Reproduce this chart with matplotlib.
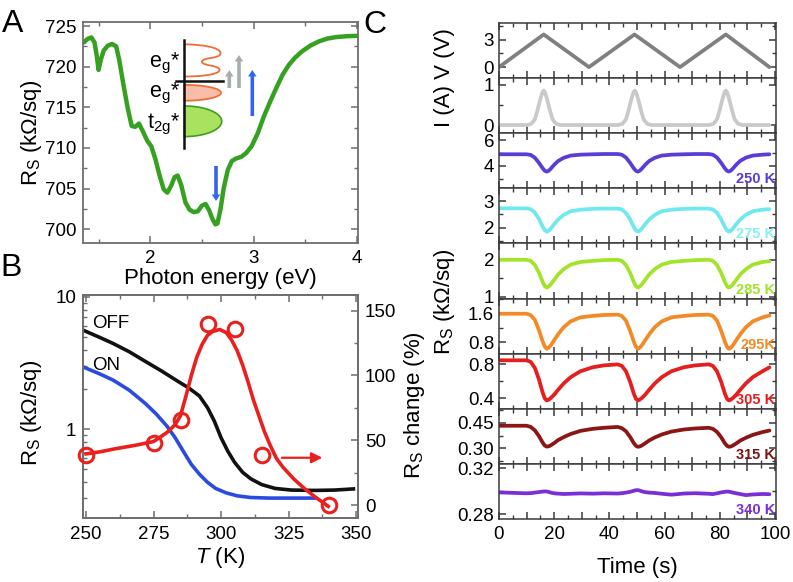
import numpy as np
import matplotlib
matplotlib.use('Agg')
import matplotlib.pyplot as plt
from matplotlib.ticker import MultipleLocator, FixedLocator, AutoMinorLocator, NullFormatter, LogLocator
from matplotlib.path import Path
import matplotlib.patches as mpatches

plt.rcParams['font.family'] = ['Liberation Sans', 'DejaVu Sans']
plt.rcParams['mathtext.fontset'] = 'custom'
plt.rcParams['mathtext.rm'] = 'Liberation Sans'
plt.rcParams['mathtext.it'] = 'Liberation Sans:italic'
plt.rcParams['mathtext.bf'] = 'Liberation Sans:bold'

# ---------------- Panel A data ----------------
energy_eV = [1.36, 1.39, 1.43, 1.46, 1.48, 1.50, 1.52, 1.55, 1.59, 1.63, 1.67, 1.70, 1.74, 1.78,
             1.82, 1.855, 1.89, 1.93, 1.97, 2.01, 2.05, 2.09, 2.13, 2.165, 2.20, 2.235, 2.265,
             2.30, 2.34, 2.38, 2.42, 2.46, 2.50, 2.535, 2.57, 2.60, 2.63, 2.65, 2.68, 2.71,
             2.75, 2.79, 2.83, 2.88, 2.93, 2.98, 3.04, 3.10, 3.16, 3.22, 3.28, 3.34, 3.40,
             3.47, 3.55, 3.63, 3.71, 3.80, 3.90, 4.00]
rs_photo = [723.0, 723.4, 723.6, 723.0, 721.5, 719.6, 720.8, 722.0, 722.6, 722.8, 722.5, 720.8,
            717.8, 715.0, 712.7, 712.6, 713.0, 712.0, 710.9, 710.2, 708.6, 706.6, 704.9, 704.5,
            705.3, 706.4, 706.6, 705.4, 703.3, 702.4, 702.1, 702.2, 702.9, 703.1, 702.3, 701.3,
            700.6, 700.7, 702.5, 705.0, 707.3, 708.4, 708.7, 708.9, 709.4, 710.2, 711.8, 713.9,
            715.7, 717.4, 719.0, 720.2, 721.1, 721.9, 722.6, 723.1, 723.45, 723.65, 723.75, 723.8]

# ---------------- Panel B data ----------------
temp_off = [249, 255, 260, 266, 272, 278, 284, 288, 292, 295, 297.5, 300, 302.5, 305, 308, 311,
            315, 320, 326, 335, 342, 349]
rs_off = [5.6, 4.95, 4.45, 3.85, 3.25, 2.75, 2.3, 2.05, 1.78, 1.45, 1.15, 0.86, 0.68, 0.56, 0.47,
          0.42, 0.38, 0.355, 0.345, 0.343, 0.345, 0.352]
temp_on = [249, 255, 260, 266, 272, 276, 280, 283, 286, 289, 292, 295, 298, 302, 306, 311, 318,
           326, 335]
rs_on = [2.95, 2.62, 2.35, 1.97, 1.56, 1.3, 1.05, 0.86, 0.68, 0.54, 0.455, 0.395, 0.355, 0.328,
         0.312, 0.303, 0.30, 0.30, 0.30]
temp_pts = [250, 275, 285, 295, 305, 315, 340]
change_pts = [39, 48, 66, 140, 136, 39, 0]
temp_fit = [250, 255, 261, 268, 275, 280, 283, 285, 287, 289, 291, 293, 295, 297, 299.5, 302, 304,
            306, 308, 310, 312, 314, 316, 318, 320.5, 323, 327, 331, 335, 339.7]
change_fit = [39.5, 41, 43.5, 46, 49, 56, 62, 69, 84, 100, 114, 124, 131, 134, 135.5, 133, 127,
              119, 108, 95, 81, 69, 57, 47, 36, 29, 20, 12.5, 6, -1]

# ---------------- Panel C data ----------------
t_volt = [0, 16.2, 32.6, 49.1, 65.6, 82.2, 98.0]
volt = [0, 3.55, 0, 3.55, 0, 3.55, 0]
t_curr = [0, 10.2, 11.7, 13.0, 14.0, 15.0, 15.7, 16.2, 16.7, 17.4, 18.4, 19.4, 20.7, 22.2,
          43.2, 44.7, 46.0, 47.0, 48.0, 48.7, 49.2, 49.7, 50.4, 51.4, 52.4, 53.7, 55.2,
          76.2, 77.7, 79.0, 80.0, 81.0, 81.7, 82.2, 82.7, 83.4, 84.4, 85.4, 86.7, 88.2, 98.0]
curr = [0, 0, 0.03, 0.14, 0.38, 0.65, 0.81, 0.86, 0.81, 0.65, 0.38, 0.14, 0.03, 0,
        0, 0.03, 0.14, 0.38, 0.65, 0.81, 0.86, 0.81, 0.65, 0.38, 0.14, 0.03, 0,
        0, 0.03, 0.14, 0.38, 0.65, 0.81, 0.86, 0.81, 0.65, 0.38, 0.14, 0.03, 0, 0]
t_rs = [0,
        10.0, 11.5, 13.0, 14.5, 15.8, 16.6, 17.3, 18.0, 18.8, 20.0, 21.5, 23.5, 26.0, 29.5, 34.0, 38.0,
        43.0, 44.5, 46.0, 47.5, 48.8, 49.6, 50.3, 51.0, 51.8, 53.0, 54.5, 56.5, 59.0, 62.5, 67.0, 71.0,
        76.0, 77.5, 79.0, 80.5, 81.8, 82.6, 83.3, 84.0, 84.8, 86.0, 87.5, 89.5, 92.0, 95.5, 98.0]
rs_250 = [4.90,
          4.90, 4.85, 4.63, 4.23, 3.82, 3.62, 3.55, 3.62, 3.79, 4.09, 4.39, 4.63, 4.80, 4.87, 4.90, 4.92,
          4.92, 4.87, 4.65, 4.24, 3.82, 3.62, 3.55, 3.62, 3.79, 4.09, 4.39, 4.63, 4.80, 4.87, 4.90, 4.92,
          4.92, 4.87, 4.65, 4.24, 3.82, 3.62, 3.56, 3.63, 3.80, 4.10, 4.40, 4.64, 4.80, 4.87, 4.90]
rs_275 = [2.73,
          2.73, 2.70, 2.57, 2.33, 2.05, 1.91, 1.86, 1.89, 1.98, 2.14, 2.32, 2.49, 2.62, 2.68, 2.71, 2.72,
          2.72, 2.69, 2.56, 2.32, 2.04, 1.91, 1.86, 1.89, 1.98, 2.14, 2.32, 2.49, 2.62, 2.68, 2.71, 2.72,
          2.72, 2.69, 2.56, 2.32, 2.04, 1.91, 1.86, 1.89, 1.98, 2.14, 2.32, 2.49, 2.62, 2.68, 2.70]
rs_285 = [2.00,
          2.00, 1.97, 1.86, 1.65, 1.41, 1.29, 1.25, 1.28, 1.34, 1.46, 1.61, 1.75, 1.87, 1.94, 1.97, 1.99,
          2.00, 1.97, 1.86, 1.65, 1.41, 1.29, 1.25, 1.28, 1.34, 1.46, 1.61, 1.75, 1.87, 1.94, 1.97, 1.99,
          2.00, 1.97, 1.86, 1.65, 1.41, 1.29, 1.25, 1.28, 1.34, 1.46, 1.61, 1.75, 1.87, 1.94, 1.96]
rs_295 = [1.59,
          1.59, 1.55, 1.42, 1.13, 0.83, 0.68, 0.62, 0.65, 0.72, 0.86, 1.03, 1.22, 1.38, 1.49, 1.53, 1.555,
          1.565, 1.53, 1.40, 1.12, 0.83, 0.68, 0.62, 0.65, 0.72, 0.86, 1.03, 1.22, 1.38, 1.49, 1.53, 1.555,
          1.565, 1.53, 1.40, 1.12, 0.83, 0.68, 0.62, 0.65, 0.72, 0.86, 1.03, 1.22, 1.38, 1.49, 1.54]
rs_305 = [0.848,
          0.848, 0.829, 0.758, 0.621, 0.470, 0.399, 0.375, 0.384, 0.405, 0.444, 0.504, 0.577, 0.650, 0.719, 0.766, 0.788,
          0.800, 0.783, 0.719, 0.596, 0.460, 0.396, 0.375, 0.384, 0.405, 0.444, 0.504, 0.577, 0.650, 0.719, 0.766, 0.788,
          0.800, 0.783, 0.719, 0.596, 0.460, 0.396, 0.375, 0.384, 0.405, 0.444, 0.504, 0.577, 0.650, 0.719, 0.765]
rs_315 = [0.432,
          0.432, 0.425, 0.405, 0.371, 0.334, 0.316, 0.310, 0.312, 0.318, 0.331, 0.349, 0.366, 0.384, 0.402, 0.414, 0.420,
          0.425, 0.418, 0.400, 0.367, 0.332, 0.315, 0.309, 0.311, 0.317, 0.330, 0.347, 0.364, 0.381, 0.398, 0.410, 0.416,
          0.420, 0.414, 0.396, 0.365, 0.331, 0.315, 0.309, 0.311, 0.317, 0.329, 0.346, 0.362, 0.379, 0.395, 0.404]
rs_340 = [0.2990,
          0.2982, 0.2984, 0.2988, 0.2993, 0.2997, 0.2999, 0.2998, 0.2994, 0.2988, 0.2982, 0.2979, 0.2976, 0.2978, 0.2981, 0.2979, 0.2982,
          0.2980, 0.2983, 0.2988, 0.2995, 0.3004, 0.3009, 0.3010, 0.3006, 0.2999, 0.2992, 0.2988, 0.2985, 0.2978, 0.2970, 0.2980, 0.2983,
          0.2978, 0.2975, 0.2982, 0.2990, 0.2995, 0.2997, 0.2996, 0.2993, 0.2988, 0.2982, 0.2975, 0.2966, 0.2972, 0.2976, 0.2974]
temp_labels = ['250 K', '275 K', '285 K', '295K', '305 K', '315 K', '340 K']

# ---------------- styles ----------------
W, H = 793, 582
fig = plt.figure(figsize=(W / 100, H / 100), dpi=100)


def rect(l, t, r, b):
    return [l / W, 1 - b / H, (r - l) / W, (b - t) / H]


TICK = 13.5
LAB = 16
GREEN = '#36A021'
BLACK = '#111111'
BLUE = '#2B4BE0'
RED = '#E8201E'
GRAY_SP = '#6e6e6e'


def style_axes(ax, spc, lw=1.3):
    for s in ax.spines.values():
        s.set_color(spc)
        s.set_linewidth(lw)
    ax.tick_params(which='both', direction='in', color=spc, labelcolor='black',
                   labelsize=TICK)
    ax.tick_params(which='major', length=5, width=1.1)
    ax.tick_params(which='minor', length=2.8, width=1.0)


# ---------------- Panel A ----------------
ax_a = fig.add_axes(rect(83, 22, 358, 243))
ax_a.plot(energy_eV, rs_photo, color=GREEN, lw=3.2, solid_capstyle='round', solid_joinstyle='round')
ax_a.set_xlim(1.349, 4.01)
ax_a.set_ylim(698.3, 725.5)
style_axes(ax_a, GRAY_SP)
ax_a.tick_params(which='both', top=True, right=True)
ax_a.tick_params(axis='x', pad=5)
ax_a.tick_params(axis='y', pad=5)
ax_a.xaxis.set_major_locator(FixedLocator([2, 3, 4]))
ax_a.xaxis.set_minor_locator(MultipleLocator(0.5))
ax_a.yaxis.set_major_locator(MultipleLocator(5))
ax_a.yaxis.set_minor_locator(MultipleLocator(2.5))
ax_a.set_xlabel('Photon energy (eV)', fontsize=LAB, va='center')
ax_a.xaxis.set_label_coords(0.5, -0.162)
ax_a.set_ylabel('R$_\\mathrm{S}$ (kΩ/sq)', fontsize=LAB, va='center')
ax_a.yaxis.set_label_coords(-0.1855, 0.5)

# schematic overlay in pixel coordinates
ov = fig.add_axes(rect(83, 22, 358, 243))
ov.set_xlim(83, 358)
ov.set_ylim(243, 22)
ov.axis('off')
ov.patch.set_alpha(0)

th = np.linspace(-np.pi / 2, np.pi / 2, 80)
vx = 184.3
# green lobe (t2g)
gx = vx + 37.4 * np.cos(th)
gy = 121.3 + 15.3 * np.sin(th)
ov.add_patch(mpatches.Polygon(np.column_stack([gx, gy]), closed=True, fc='#A8E25E',
                              ec='#3E9E22', lw=1.2, zorder=2))
# pink lobe (eg)
px_ = vx + 36.7 * np.cos(th)
py_ = 92.8 + 7.9 * np.sin(th)
ov.add_patch(mpatches.Polygon(np.column_stack([px_, py_]), closed=True, fc='#F9BEAA',
                              ec='#EE6E3A', lw=1.3, zorder=2))
# orange outline (empty eg)
verts = [(184.3, 44.3),
         (200, 44.5), (221, 47), (220.5, 53.5),
         (220, 59), (203, 57), (202, 61.5),
         (201, 66), (220, 65), (219.5, 70),
         (219, 75.5), (195, 76.5), (185.5, 76.5)]
codes = [Path.MOVETO] + [Path.CURVE4] * 12
ov.add_patch(mpatches.PathPatch(Path(verts, codes), fc='none', ec='#EE6E3A', lw=1.3, zorder=2))
# axes lines of schematic
ov.plot([vx, vx], [40, 147.7], color='#111111', lw=1.8, zorder=3)
ov.plot([176, 222.7], [80.7, 80.7], color='#111111', lw=1.8, zorder=3)
# labels
ov.text(180, 63, 'e$_\\mathrm{g}$*', ha='right', va='center', fontsize=15.5, zorder=4)
ov.text(180, 93.5, 'e$_\\mathrm{g}$*', ha='right', va='center', fontsize=15.5, zorder=4)
ov.text(180, 124, 't$_\\mathrm{2g}$*', ha='right', va='center', fontsize=15.5, zorder=4)
# arrows
ARR_GRAY = '#A7AEAE'
ARR_BLUE = '#3464EC'
for (x0, y0, y1, c) in [(229.3, 88, 70, ARR_GRAY), (239.0, 88, 55, ARR_GRAY),
                        (252.3, 116, 70, ARR_BLUE), (216.0, 166, 201, ARR_BLUE)]:
    ov.add_patch(mpatches.FancyArrow(x0, y0, 0, y1 - y0, width=3.6, head_width=8.5,
                                     head_length=6.5, length_includes_head=True,
                                     fc=c, ec='none', zorder=3))

# ---------------- Panel B ----------------
ax_b = fig.add_axes(rect(83, 295, 358, 518))
ax_b.set_yscale('log')
ax_b.plot(temp_off, rs_off, color=BLACK, lw=2.6, zorder=2)
ax_b.plot(temp_on, rs_on, color=BLUE, lw=2.6, zorder=2)
ax_b.set_xlim(248.9, 350.7)
ax_b.set_ylim(0.212, 10.35)
style_axes(ax_b, GRAY_SP)
ax_b.tick_params(which='both', top=True)
ax_b.tick_params(axis='x', pad=6)
ax_b.tick_params(axis='y', pad=5)
ax_b.xaxis.set_major_locator(MultipleLocator(25))
ax_b.xaxis.set_minor_locator(MultipleLocator(12.5))
ax_b.yaxis.set_major_locator(FixedLocator([1, 10]))
ax_b.yaxis.set_major_formatter(matplotlib.ticker.FixedFormatter(['1', '10']))
ax_b.yaxis.set_minor_locator(LogLocator(base=10, subs=np.arange(2, 10)))
ax_b.yaxis.set_minor_formatter(NullFormatter())
ax_b.set_xlabel('$T$ (K)', fontsize=LAB, va='center')
ax_b.xaxis.set_label_coords(0.5, -0.179)
ax_b.set_ylabel('R$_\\mathrm{S}$ (kΩ/sq)', fontsize=LAB, va='center')
ax_b.yaxis.set_label_coords(-0.1855, 0.473)
ax_b.text(0.033, 0.874, 'OFF', transform=ax_b.transAxes, fontsize=TICK, va='center', ha='left')
ax_b.text(0.033, 0.686, 'ON', transform=ax_b.transAxes, fontsize=TICK, va='center', ha='left')

ax_b2 = ax_b.twinx()
ax_b2.plot(temp_fit, change_fit, color=RED, lw=2.6, zorder=3)
ax_b2.plot(temp_pts, change_pts, 'o', mfc='none', mec=RED, mew=2.2, ms=10.5, zorder=4,
           clip_on=False)
ax_b2.set_ylim(-10, 162.1)
style_axes(ax_b2, GRAY_SP)
ax_b2.tick_params(axis='y', pad=5)
ax_b2.yaxis.set_major_locator(FixedLocator([0, 50, 100, 150]))
ax_b2.yaxis.set_minor_locator(MultipleLocator(25))
ax_b2.annotate('', xy=(337.5, 36.5), xytext=(322.5, 36.5),
               arrowprops=dict(arrowstyle='-|>', color=RED, lw=1.6, mutation_scale=16,
                               shrinkA=0, shrinkB=0))
ax_b2.set_ylabel('R$_\\mathrm{S}$ change (%)', fontsize=LAB, va='center', rotation=90)
ax_b2.yaxis.set_label_coords(1.207, 0.507)

# ---------------- Panel C ----------------
c_series = [(t_volt, volt, '#808080'), (t_curr, curr, '#C9C9C9'),
            (t_rs, rs_250, '#5B3CD6'), (t_rs, rs_275, '#6FE9EF'), (t_rs, rs_285, '#A2E42A'),
            (t_rs, rs_295, '#F28B27'), (t_rs, rs_305, '#E51E1E'), (t_rs, rs_315, '#8C1515'),
            (t_rs, rs_340, '#7A2FD6')]
label_colors = ['#5B3CD6', '#86F0F2', '#9EE42A', '#F28B27', '#E51E1E', '#7E1212', '#7A2FD6']
c_ylims = [(-1.17, 4.83), (-0.2, 1.175), (2.26, 6.55), (1.42, 3.48), (0.955, 2.44),
           (0.484, 2.008), (0.275, 0.925), (0.208, 0.53), (0.2754, 0.3238)]
c_yticks = [[0, 3], [0, 1], [4, 6], [2, 3], [1, 2], [0.8, 1.6], [0.4, 0.8], [0.30, 0.45],
            [0.28, 0.32]]
c_ytlabels = [['0', '3'], ['0', '1'], ['4', '6'], ['2', '3'], ['1', '2'], ['0.8', '1.6'],
              ['0.4', '0.8'], ['0.30', '0.45'], ['0.28', '0.32']]
c_top = 22.7
c_ph = (519.3 - 22.7) / 9
c_axes = []
for i, (tx, vy, col) in enumerate(c_series):
    ax = fig.add_axes(rect(499, c_top + i * c_ph, 775.5, c_top + (i + 1) * c_ph))
    ax.plot(tx, vy, color=col, lw=2.7, solid_joinstyle='round', solid_capstyle='round')
    ax.set_xlim(0, 100.2)
    ax.set_ylim(*c_ylims[i])
    style_axes(ax, '#3a3a3a', lw=1.1)
    ax.tick_params(which='both', top=True, right=True)
    ax.tick_params(axis='y', pad=3.5)
    ax.tick_params(axis='x', pad=5)
    ax.set_yticks(c_yticks[i], c_ytlabels[i])
    ax.yaxis.set_minor_locator(AutoMinorLocator(2))
    ax.xaxis.set_major_locator(MultipleLocator(10))
    ax.xaxis.set_minor_locator(MultipleLocator(5))
    if i < 8:
        ax.tick_params(axis='x', labelbottom=False)
    else:
        ax.set_xticks(np.arange(0, 101, 10),
                      ['0', '', '20', '', '40', '', '60', '', '80', '', '100'])
    if i >= 2:
        ax.text(0.999, 0.035, temp_labels[i - 2], transform=ax.transAxes, ha='right',
                va='bottom', fontsize=10.5, fontweight='bold', color=label_colors[i - 2])
    c_axes.append(ax)

c_axes[-1].set_xlabel('Time (s)', fontsize=LAB, va='center')
c_axes[-1].xaxis.set_label_coords(0.5, (519.3 - 567.5) / c_ph)
fig.text(445 / W, 1 - 77.5 / H, 'I (A) V (V)', rotation=90, ha='center', va='center',
         fontsize=LAB)
fig.text(445 / W, 1 - 302 / H, 'R$_\\mathrm{S}$ (kΩ/sq)', rotation=90, ha='center',
         va='center', fontsize=LAB)

# panel letters
for letter, x, y in [('A', 12.5, 23.5), ('B', 11.5, 268.5), ('C', 375, 25)]:
    fig.text(x / W, 1 - y / H, letter, ha='center', va='center', fontsize=23)

fig.savefig('out.png', dpi=100)
